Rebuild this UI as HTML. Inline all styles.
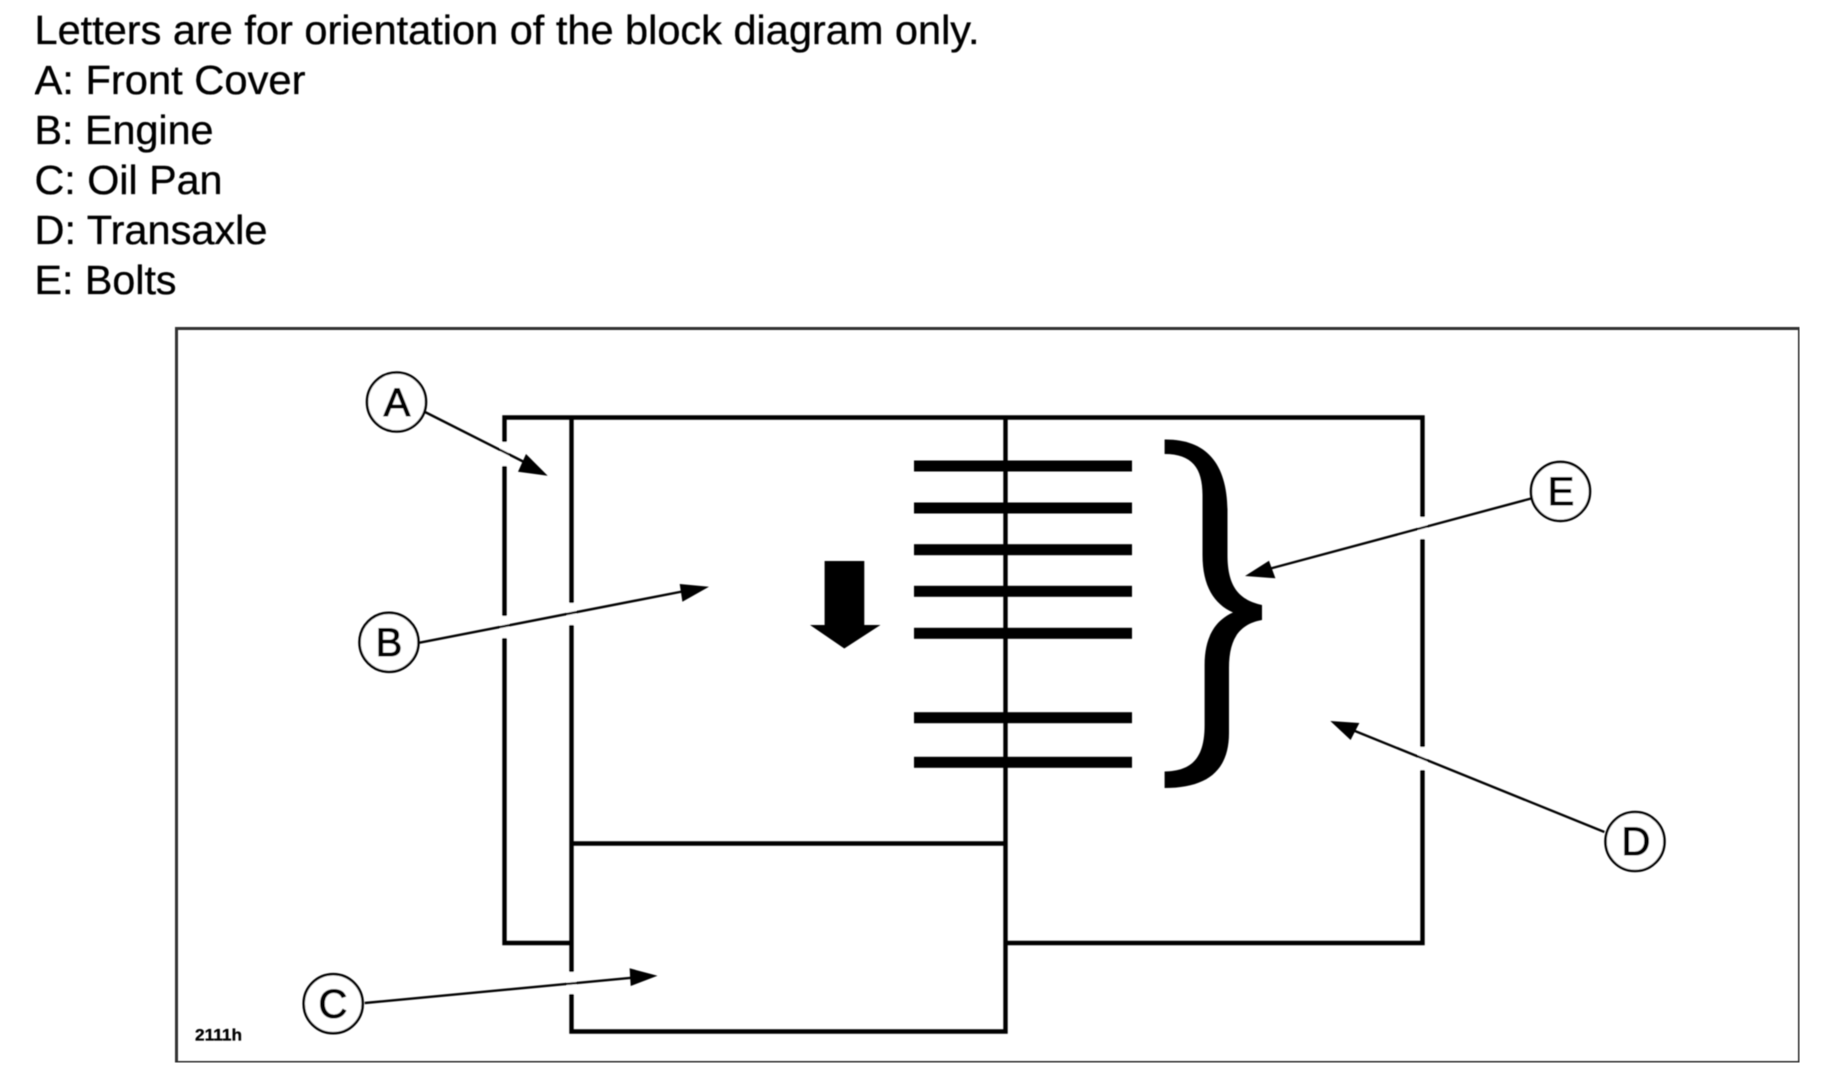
<!DOCTYPE html>
<html lang="en">
<head>
<meta charset="utf-8">
<title>Block diagram orientation</title>
<style>
html,body{margin:0;padding:0;background:#fff;width:1825px;height:1081px;overflow:hidden}
svg{display:block}
text{font-family:"Liberation Sans",Arial,sans-serif;fill:#000}
</style>
</head>
<body>
<svg xmlns="http://www.w3.org/2000/svg" width="1825" height="1081" viewBox="0 0 1825 1081">
<defs><filter id="b" x="0" y="0" width="100%" height="100%"><feGaussianBlur stdDeviation="0.65"/></filter></defs>
<rect width="1825" height="1081" fill="#fff"/>
<g filter="url(#b)">
  <!-- heading text -->
  <g font-size="41" stroke="#000" stroke-width="0.35">
    <text x="34.5" y="44" textLength="945" lengthAdjust="spacingAndGlyphs">Letters are for orientation of the block diagram only.</text>
    <text x="34.5" y="94" textLength="271" lengthAdjust="spacingAndGlyphs">A: Front Cover</text>
    <text x="34.5" y="144" textLength="179" lengthAdjust="spacingAndGlyphs">B: Engine</text>
    <text x="34.5" y="194" textLength="188" lengthAdjust="spacingAndGlyphs">C: Oil Pan</text>
    <text x="34.5" y="244" textLength="233" lengthAdjust="spacingAndGlyphs">D: Transaxle</text>
    <text x="34.5" y="294" textLength="142" lengthAdjust="spacingAndGlyphs">E: Bolts</text>
  </g>

  <!-- frame -->
  <rect x="176.5" y="328.5" width="1623" height="734" fill="none" stroke="#333" stroke-width="3"/>

  <g fill="none" stroke="#000" stroke-width="4.4">
    <!-- transaxle / outer -->
    <path d="M571 943H504.5V417.5H1422.5V943H1005"/>
    <!-- engine & oil pan -->
    <path d="M571.5 417.5V1031.5H1005.5V417.5"/>
    <path d="M571.5 843.5H1005.5"/>
  </g>

  <!-- bolts -->
  <g fill="#000">
    <rect x="914" y="460.5" width="218" height="11"/>
    <rect x="914" y="502.5" width="218" height="11"/>
    <rect x="914" y="544.2" width="218" height="11"/>
    <rect x="914" y="585.8" width="218" height="11"/>
    <rect x="914" y="627.8" width="218" height="11"/>
    <rect x="914" y="712.2" width="218" height="11"/>
    <rect x="914" y="756.8" width="218" height="11"/>
  </g>

  <!-- down arrow -->
  <path d="M824.6 561H864.3V625H880.5L844.3 648.5L810 625H824.6Z" fill="#000"/>

  <!-- brace -->
  <path fill="#000" d="M1164.6 439.5 C1205 439 1227 462 1227.5 510 V555 C1227.5 588 1240 600 1262 605 V620 C1240 624 1229 638 1229 668 V733 C1229 770 1208 788 1164.6 788 V771.5 C1192 771 1204.6 758 1204.6 725 V665 C1204.6 636 1216 620 1233 612.5 C1214 604 1202.5 586 1202.5 555 V495 C1202.5 468 1192 454 1164.6 454 Z"/>

  <!-- gaps in lines where leaders cross -->
  <g fill="#fff">
    <rect x="500" y="442" width="9" height="24"/>
    <rect x="500" y="616" width="9" height="22"/>
    <rect x="567" y="603" width="9" height="22"/>
    <rect x="567" y="972" width="9" height="22"/>
    <rect x="1418" y="517" width="9" height="22"/>
    <rect x="1418" y="747" width="9" height="23"/>
  </g>

  <!-- leaders -->
  <g stroke="#000" stroke-width="2.4" fill="none">
    <path d="M425 412L530 465"/>
    <path d="M419.5 642.7L690 590"/>
    <path d="M364.7 1003L640 977"/>
    <path d="M1530.7 498.6L1265 570"/>
    <path d="M1604.4 832L1350 729"/>
  </g>
  <g fill="#000">
    <path d="M547.7 475.7L526 454L518 471.7Z"/>
    <path d="M709 586.7L679.7 584L682.4 601.7Z"/>
    <path d="M657.5 975.7L629.6 968.3L630.7 986Z"/>
    <path d="M1245 576L1269 560.7L1275.4 578.3Z"/>
    <path d="M1330.3 721L1359.4 723L1350.6 740Z"/>
  </g>

  <!-- callouts -->
  <g fill="#fff" stroke="#000" stroke-width="2.6">
    <circle cx="396.5" cy="402" r="29.5"/>
    <circle cx="389" cy="642.3" r="29.5"/>
    <circle cx="333.2" cy="1003.7" r="29.5"/>
    <circle cx="1560.5" cy="491.4" r="29.5"/>
    <circle cx="1635" cy="841.5" r="29.5"/>
  </g>
  <g font-size="40" text-anchor="middle" stroke="#000" stroke-width="1">
    <text x="397" y="416">A</text>
    <text x="389" y="656">B</text>
    <text x="333" y="1017.5">C</text>
    <text x="1561" y="505">E</text>
    <text x="1636" y="855">D</text>
  </g>

  <text x="195" y="1040.5" font-size="16.5" font-weight="700" stroke="#000" stroke-width="0.3" textLength="47" lengthAdjust="spacingAndGlyphs">2111h</text>
</g>
</svg>
</body>
</html>
